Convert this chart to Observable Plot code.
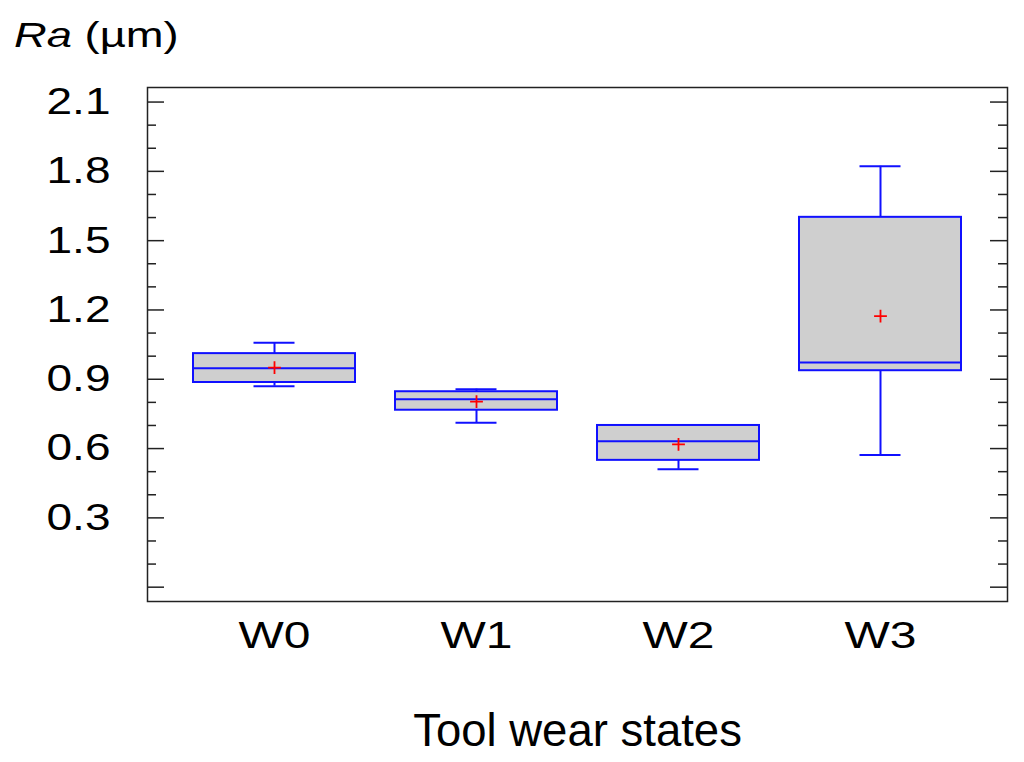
<!DOCTYPE html>
<html>
<head>
<meta charset="utf-8">
<script src="https://cdn.jsdelivr.net/npm/d3@7"></script>
<script src="https://cdn.jsdelivr.net/npm/@observablehq/plot@0.6"></script>
<style>
  html, body { margin: 0; padding: 0; background: #fff; }
  #chart svg { display: block; }
</style>
</head>
<body>
<div id="chart"></div>
<script>
// ---- data ----
const states = ["W0", "W1", "W2", "W3"];
const whiskerLow = [0.870, 0.712, 0.510, 0.572];
const q1 = [0.886, 0.766, 0.549, 0.937];
const median = [0.948, 0.814, 0.632, 0.973];
const q3 = [1.011, 0.846, 0.700, 1.601];
const whiskerHigh = [1.058, 0.857, 0.700, 1.822];
const means = [0.950, 0.803, 0.618, 1.173];

const yMajorTicks = [0, 0.3, 0.6, 0.9, 1.2, 1.5, 1.8, 2.1];
const yLabelTicks = [0.3, 0.6, 0.9, 1.2, 1.5, 1.8, 2.1];
const yMinorTicks = [0.1, 0.2, 0.4, 0.5, 0.7, 0.8, 1.0, 1.1, 1.3, 1.4, 1.6, 1.7, 1.9, 2.0];

const xTitle = "Tool wear states";
const yTitleItalic = "Ra";
const yTitleRest = " (µm)";

const table = states.map((s, i) => ({
  state: s, lo: whiskerLow[i], q1: q1[i], med: median[i],
  q3: q3[i], hi: whiskerHigh[i], mean: means[i]
}));

const W = 1024, H = 762;
const mL = 147, mR = 17, mT = 87, mB = 161;
const frameW = W - mL - mR;
const blue = "#1010ff";
const font = "'Liberation Sans', Arial, sans-serif";

const chart = Plot.plot({
  width: W,
  height: H,
  marginLeft: mL,
  marginRight: mR,
  marginTop: mT,
  marginBottom: mB,
  style: { fontFamily: font, background: "#fff", color: "#000", overflow: "visible" },
  x: { type: "band", domain: states, paddingInner: 0.2, paddingOuter: 0.22 },
  y: { domain: [-0.062, 2.163] },
  marks: [
    // inward ticks, left and right
    Plot.ruleY(yMajorTicks, { y: d => d, insetRight: frameW - 17, stroke: "#222", strokeWidth: 1.5 }),
    Plot.ruleY(yMajorTicks, { y: d => d, insetLeft: frameW - 17, stroke: "#222", strokeWidth: 1.5 }),
    Plot.ruleY(yMinorTicks, { y: d => d, insetRight: frameW - 9, stroke: "#222", strokeWidth: 1.5 }),
    Plot.ruleY(yMinorTicks, { y: d => d, insetLeft: frameW - 9, stroke: "#222", strokeWidth: 1.5 }),
    // whiskers
    Plot.ruleX(table, { x: "state", y1: "q3", y2: "hi", stroke: blue, strokeWidth: 2 }),
    Plot.ruleX(table, { x: "state", y1: "lo", y2: "q1", stroke: blue, strokeWidth: 2 }),
    Plot.tickY(table, { x: "state", y: "hi", stroke: blue, strokeWidth: 2, insetLeft: 60.5, insetRight: 60.5 }),
    Plot.tickY(table, { x: "state", y: "lo", stroke: blue, strokeWidth: 2, insetLeft: 60.5, insetRight: 60.5 }),
    // boxes
    Plot.barY(table, { x: "state", y1: "q1", y2: "q3", fill: "#cfcfcf", stroke: blue, strokeWidth: 2 }),
    Plot.tickY(table, { x: "state", y: "med", stroke: blue, strokeWidth: 2 }),
    // means
    Plot.dot(table, { x: "state", y: "mean", symbol: "plus", r: 4.2, stroke: "#ff0000", strokeWidth: 1.8 }),
    // frame
    Plot.frame({ stroke: "#222", strokeWidth: 1.5 }),
    // axes
    Plot.axisY(yLabelTicks, { tickSize: 0, tickPadding: 37, fontSize: 37, tickFormat: d3.format(".1f"), label: null }),
    Plot.axisX({ tickSize: 0, tickPadding: 21, fontSize: 36, label: null }),
    Plot.text([xTitle], { text: d => d, frameAnchor: "bottom", dy: 144, lineAnchor: "bottom", fontSize: 45.5, fill: "#000" })
  ]
});

document.getElementById("chart").appendChild(chart);

const svg = d3.select(chart);
// the reference glyphs are horizontally wide; stretch tick labels to match
svg.selectAll('g[aria-label="y-axis tick label"] text')
  .attr("textLength", 64).attr("lengthAdjust", "spacingAndGlyphs");
svg.selectAll('g[aria-label="x-axis tick label"] text')
  .attr("textLength", 72).attr("lengthAdjust", "spacingAndGlyphs");

// y-axis title with italic "Ra", widened like the reference glyphs
const yt = svg.append("text")
  .attr("transform", "translate(14,47) scale(1.26,1)")
  .attr("text-anchor", "start")
  .attr("font-family", font)
  .attr("font-size", 36)
  .attr("fill", "#000");
yt.append("tspan").attr("font-style", "italic").text(yTitleItalic);
yt.append("tspan").text(yTitleRest);
</script>
</body>
</html>
